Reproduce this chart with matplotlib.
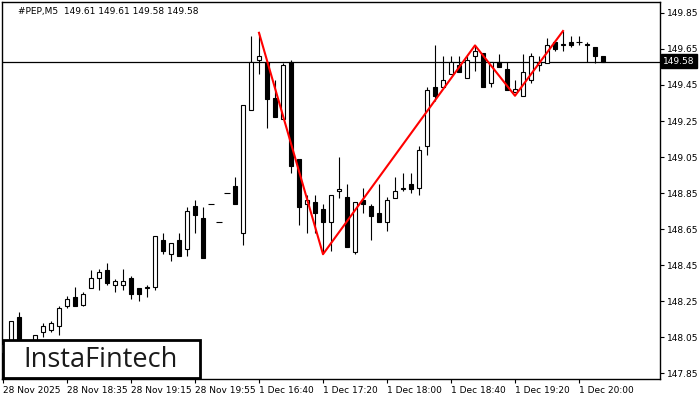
import matplotlib
matplotlib.use("Agg")
import matplotlib.pyplot as plt
import matplotlib.patches as patches
import numpy as np

# OHLC, one 5-minute bar per entry
opens = [147.96, 148.00, 148.16, 147.99, 148.02, 148.08, 148.09, 148.11, 148.22, 148.27,
         148.23, 148.32, 148.38, 148.42, 148.34, 148.34, 148.38, 148.32, 148.32, 148.33,
         148.59, 148.51, 148.59, 148.54, 148.78, 148.71, 148.79, 148.69, 148.85, 148.89,
         148.63, 149.31, 149.59, 149.58, 149.38, 149.26, 149.58, 149.04, 148.79, 148.80,
         148.76, 148.69, 148.86, 148.83, 148.52, 148.81, 148.78, 148.74, 148.69, 148.82,
         148.87, 148.90, 148.88, 149.11, 149.44, 149.44, 149.51, 149.56, 149.49, 149.61,
         149.63, 149.46, 149.58, 149.54, 149.41, 149.39, 149.48, 149.56, 149.57, 149.69,
         149.67, 149.69, 149.69, 149.67, 149.66, 149.61]
highs = [148.02, 148.14, 148.19, 148.02, 148.06, 148.13, 148.14, 148.22, 148.28, 148.33,
         148.30, 148.42, 148.43, 148.46, 148.37, 148.43, 148.39, 148.32, 148.34, 148.61,
         148.63, 148.57, 148.63, 148.77, 148.81, 148.77, 148.79, 148.69, 148.85, 148.94,
         149.34, 149.72, 149.74, 149.58, 149.48, 149.57, 149.59, 149.04, 148.84, 148.84,
         148.79, 148.84, 149.05, 148.90, 148.80, 148.88, 148.79, 148.90, 148.83, 148.94,
         148.96, 148.96, 149.11, 149.44, 149.67, 149.61, 149.61, 149.61, 149.61, 149.67,
         149.63, 149.58, 149.62, 149.58, 149.48, 149.62, 149.63, 149.61, 149.71, 149.69,
         149.75, 149.72, 149.72, 149.69, 149.66, 149.61]
lows = [147.93, 147.97, 147.95, 147.94, 148.01, 148.05, 148.08, 148.06, 148.21, 148.22,
        148.22, 148.32, 148.31, 148.34, 148.30, 148.31, 148.26, 148.25, 148.27, 148.31,
        148.51, 148.47, 148.50, 148.50, 148.63, 148.49, 148.79, 148.69, 148.85, 148.79,
        148.56, 149.31, 149.51, 149.21, 149.27, 149.26, 148.96, 148.67, 148.63, 148.63,
        148.52, 148.53, 148.82, 148.55, 148.51, 148.74, 148.59, 148.69, 148.64, 148.82,
        148.86, 148.85, 148.84, 149.06, 149.36, 149.44, 149.51, 149.52, 149.49, 149.53,
        149.44, 149.44, 149.55, 149.42, 149.41, 149.39, 149.46, 149.53, 149.57, 149.64,
        149.64, 149.66, 149.67, 149.58, 149.57, 149.58]
closes = [148.01, 148.14, 147.98, 147.97, 148.06, 148.11, 148.13, 148.21, 148.26, 148.22,
          148.29, 148.38, 148.41, 148.35, 148.36, 148.36, 148.29, 148.29, 148.33, 148.61,
          148.53, 148.57, 148.50, 148.75, 148.73, 148.49, 148.79, 148.69, 148.85, 148.79,
          149.34, 149.58, 149.61, 149.37, 149.27, 149.56, 149.00, 148.77, 148.81, 148.74,
          148.69, 148.84, 148.87, 148.55, 148.80, 148.79, 148.72, 148.69, 148.81, 148.86,
          148.88, 148.87, 149.09, 149.42, 149.39, 149.48, 149.58, 149.52, 149.59, 149.64,
          149.44, 149.58, 149.55, 149.42, 149.43, 149.52, 149.61, 149.58, 149.67, 149.65,
          149.68, 149.67, 149.69, 149.68, 149.61, 149.58]

# pattern zigzag (bar index, price)
zz_idx = [32, 40, 59, 64, 70]
zz_price = [149.74, 148.51, 149.67, 149.39, 149.75]

time_idx = [0, 8, 16, 24, 32, 40, 48, 56, 64, 72]
time_labels = ["28 Nov 2025", "28 Nov 18:35", "28 Nov 19:15", "28 Nov 19:55", "1 Dec 16:40",
               "1 Dec 17:20", "1 Dec 18:00", "1 Dec 18:40", "1 Dec 19:20", "1 Dec 20:00"]
price_ticks = [149.85, 149.65, 149.45, 149.25, 149.05, 148.85, 148.65, 148.45, 148.25, 148.05, 147.85]
bid = 149.58

plt.rcParams['font.family'] = ['DejaVu Sans']
fig = plt.figure(figsize=(7, 4), dpi=100)
ax = fig.add_axes([2/700, 21/400, 658/700, 377/400])

o = np.array(opens); h = np.array(highs); l = np.array(lows); c = np.array(closes)
x = np.arange(len(o))
up = c > o
down = c < o
flat = c == o

ax.vlines(x, l, h, color='black', lw=0.8, zorder=2)
ax.bar(x[up], (c - o)[up], bottom=o[up], width=0.6, facecolor='white', edgecolor='black', lw=0.8, zorder=3)
ax.bar(x[down], (o - c)[down], bottom=c[down], width=0.6, facecolor='black', edgecolor='black', lw=0.8, zorder=3)
ax.hlines(o[flat], x[flat] - 0.35, x[flat] + 0.35, color='black', lw=0.8, zorder=3)

ax.axhline(bid, color='black', lw=0.9, zorder=1)
ax.plot(zz_idx, zz_price, color='#ff0000', lw=1.5, zorder=4)

ax.set_xlim(-0.125, 82.125)
ax.set_ylim(147.817, 149.911)

ax.yaxis.tick_right()
ax.set_yticks(price_ticks)
ax.set_yticklabels([f"{p:.2f}" for p in price_ticks], fontsize=6.5)
ax.set_xticks(time_idx)
ax.set_xticklabels(time_labels, fontsize=6.5, ha='left')
ax.tick_params(axis='both', length=3, width=0.8, pad=2)
for s in ax.spines.values():
    s.set_linewidth(1)

ax.text(0.024, 0.975, "#PEP,M5  149.61 149.61 149.58 149.58", transform=ax.transAxes,
        fontsize=6.5, va='center', ha='left')

# current price tag
fig.text(663/700, 1 - 61/400, f"{bid:.2f}", fontsize=6.5, color='white', va='center', ha='left',
         bbox=dict(boxstyle='square,pad=0.25', facecolor='black', edgecolor='black'))

# logo
fig.add_artist(patches.Rectangle((3/700, 1 - 378/400), 197/700, 38/400, transform=fig.transFigure,
                                 facecolor='white', edgecolor='black', lw=2, zorder=10))
fig.text(101/700, 1 - 360/400, "InstaFintech", fontsize=19.5, family='Open Sans', color='#1a1a1a',
         ha='center', va='center', zorder=11)

fig.savefig("out.png", dpi=100)
